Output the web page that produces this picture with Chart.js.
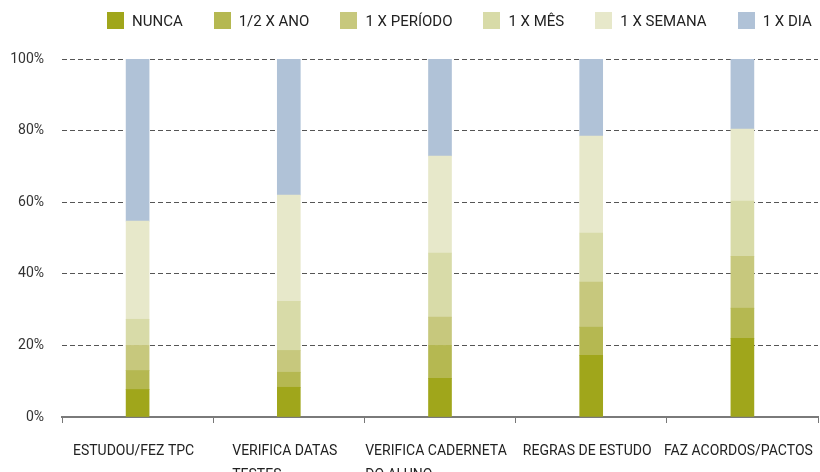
<!DOCTYPE html>
<html lang="pt">
<head>
<meta charset="utf-8">
<script src="https://cdn.jsdelivr.net/npm/chart.js@4"></script>
<style>
  html, body { margin: 0; padding: 0; background: #fff; }
  #wrap { position: relative; width: 820px; height: 472px; }
  #legend {
    position: absolute; left: 107px; top: 12px;
    display: flex; gap: 31px;
    font: 15px Roboto, sans-serif; color: #222;
  }
  #legend .item { display: flex; align-items: center; height: 17px; white-space: nowrap; }
  #legend .box { width: 17px; height: 17px; margin-right: 8px; }
</style>
</head>
<body>
<div id="wrap">
  <canvas id="chart" width="820" height="472"></canvas>
  <div id="legend"></div>
</div>
<script>
const categories = [
  ["ESTUDOU/FEZ TPC"],
  ["VERIFICA DATAS", "TESTES"],
  ["VERIFICA CADERNETA", "DO ALUNO"],
  ["REGRAS DE ESTUDO"],
  ["FAZ ACORDOS/PACTOS"],
];

const seriesNames = ["NUNCA", "1/2 X ANO", "1 X PERÍODO", "1 X MÊS", "1 X SEMANA", "1 X DIA"];
const seriesColors = ["#a0a61b", "#b5b851", "#c7c87d", "#d8dba8", "#e7e8ca", "#b0c2d7"];

const nunca = [7.7, 8.3, 10.8, 17.2, 22.0];
const meioAno = [5.3, 4.2, 9.2, 7.9, 8.4];
const periodo = [7.0, 6.1, 7.9, 12.6, 14.5];
const mes = [7.3, 13.7, 17.9, 13.7, 15.4];
const semana = [27.4, 29.7, 27.1, 27.1, 20.1];
const dia = [45.3, 38.0, 27.1, 21.5, 19.6];

const yTicks = [0, 20, 40, 60, 80, 100];

const seriesValues = [nunca, meioAno, periodo, mes, semana, dia];

function buildLegend() {
  const legend = document.getElementById("legend");
  seriesNames.forEach((name, i) => {
    const item = document.createElement("div");
    item.className = "item";
    const box = document.createElement("span");
    box.className = "box";
    box.style.background = seriesColors[i];
    const text = document.createElement("span");
    text.textContent = name;
    item.appendChild(box);
    item.appendChild(text);
    legend.appendChild(item);
  });
}

// category labels: block centred under the bar, lines left-aligned
const xLabelPlugin = {
  id: "xLabels",
  afterDraw(chart) {
    const { ctx } = chart;
    const xScale = chart.scales.x;
    ctx.save();
    ctx.font = "14px Roboto, sans-serif";
    ctx.fillStyle = "#222";
    ctx.textAlign = "left";
    ctx.textBaseline = "alphabetic";
    categories.forEach((lines, i) => {
      const cx = xScale.getPixelForValue(i);
      const maxW = Math.max(...lines.map((l) => ctx.measureText(l).width));
      const left = cx - maxW / 2 - 4;
      lines.forEach((line, k) => {
        ctx.fillText(line, left, xScale.bottom + 32 + k * 24);
      });
    });
    ctx.restore();
  },
};

function initChart() {
  buildLegend();
  new Chart(document.getElementById("chart"), {
    type: "bar",
    data: {
      labels: categories.map((c) => c.join(" ")),
      datasets: seriesNames.map((name, i) => ({
        label: name,
        data: seriesValues[i],
        backgroundColor: seriesColors[i],
        borderWidth: 0,
        barThickness: 23,
      })),
    },
    options: {
      responsive: false,
      animation: false,
      layout: { padding: { top: 59, right: 2, bottom: 49, left: 0 } },
      plugins: { legend: { display: false }, tooltip: { enabled: false } },
      scales: {
        x: {
          stacked: true,
          grid: {
            offset: true,
            drawOnChartArea: false,
            drawTicks: true,
            tickLength: 6,
            color: "#777",
          },
          border: { color: "#7a7a7a", width: 2 },
          ticks: { display: false },
        },
        y: {
          stacked: true,
          min: 0,
          max: 100,
          afterFit(scale) { scale.width = 62; },
          afterBuildTicks(scale) { scale.ticks = yTicks.map((v) => ({ value: v })); },
          grid: {
            color: "#555",
            drawTicks: false,
            lineWidth: 1,
          },
          border: { display: false, dash: [5, 3] },
          ticks: {
            padding: 18,
            color: "#333",
            font: { family: "Roboto, sans-serif", size: 14 },
            callback: (v) => v + "%",
          },
        },
      },
    },
    plugins: [xLabelPlugin],
  });
}

document.addEventListener("DOMContentLoaded", initChart);
</script>
</body>
</html>
